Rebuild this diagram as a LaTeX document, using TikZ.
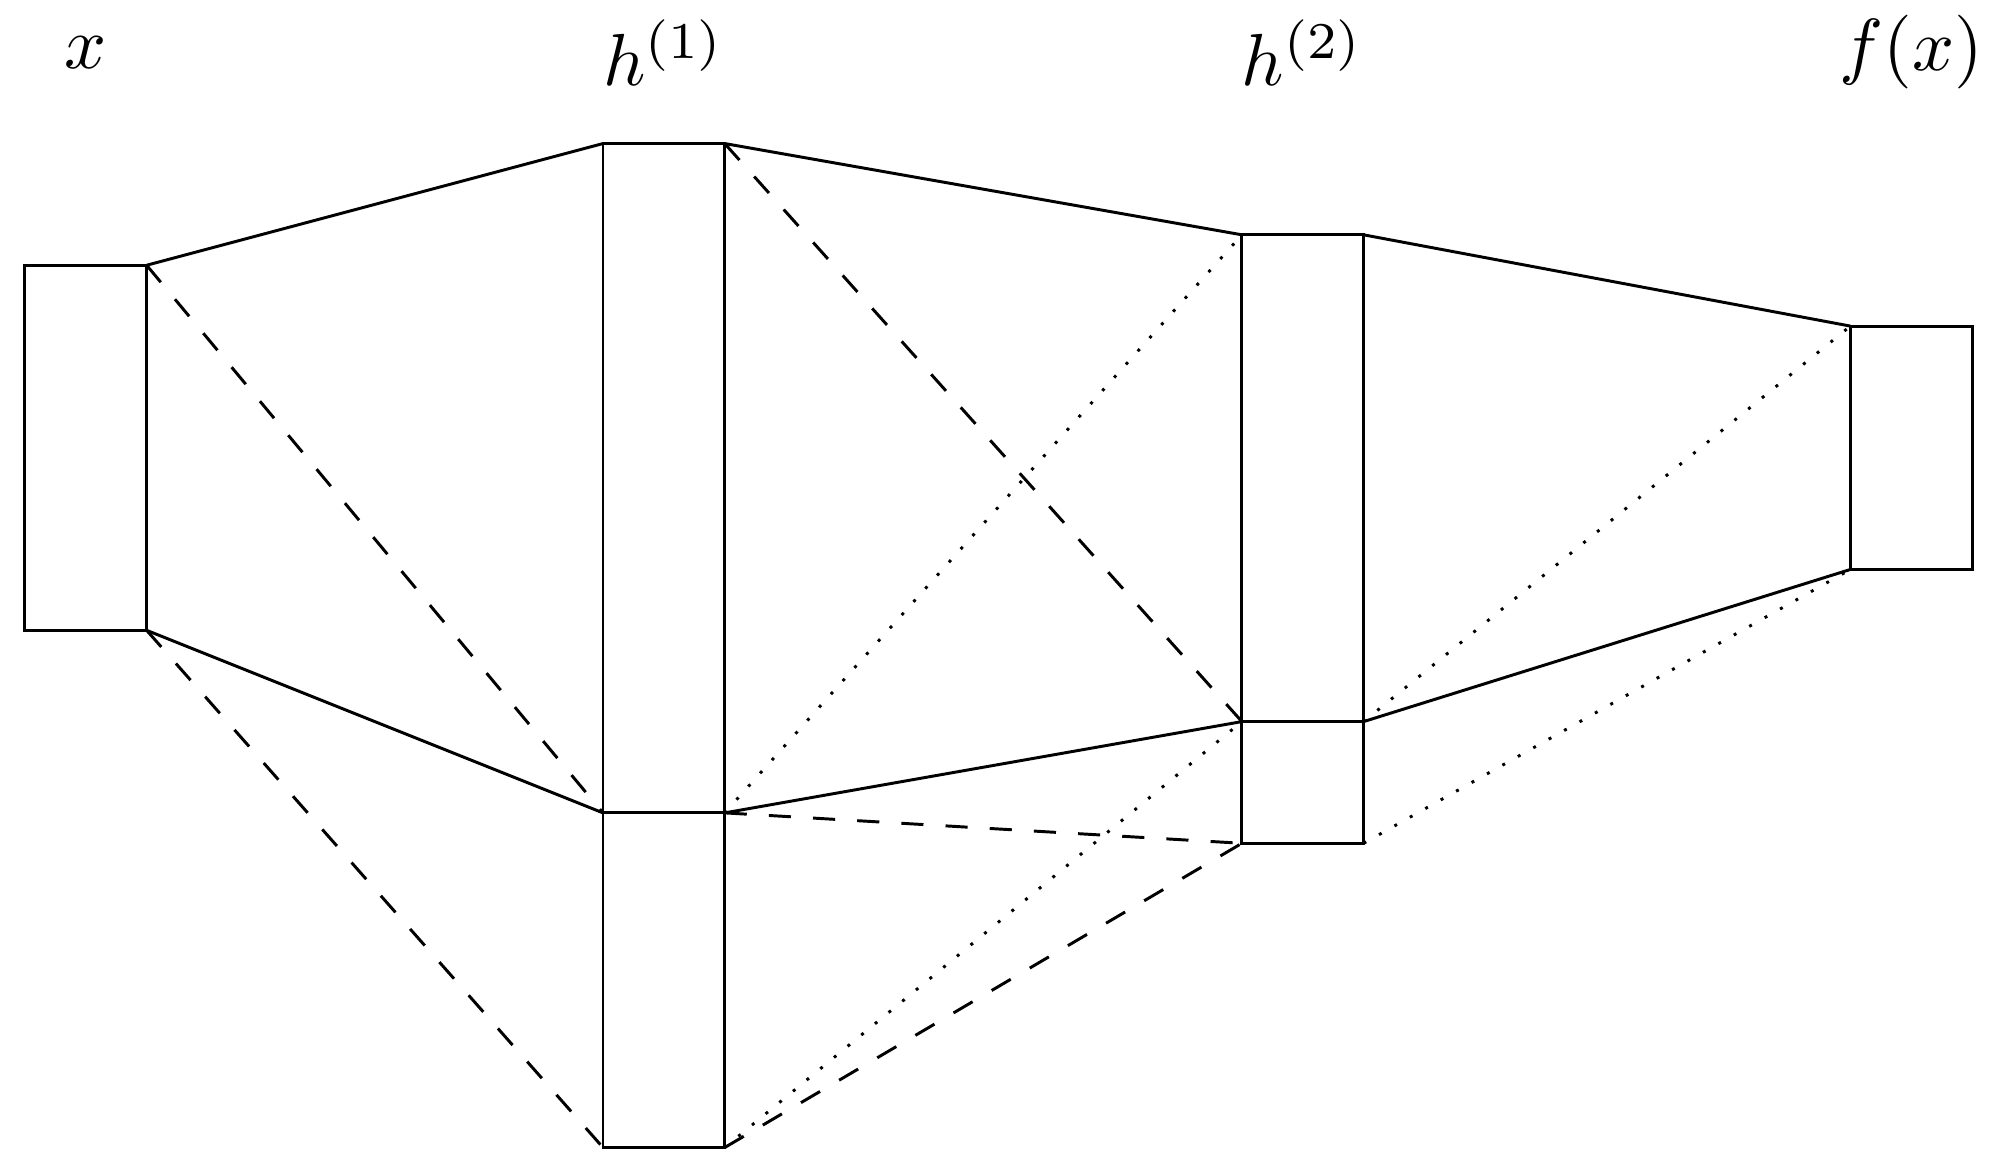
\documentclass[tikz,border=0pt]{standalone}
\usepackage{amsmath}
\usepackage{tikz}
\usetikzlibrary{positioning}

\newcommand{\bw}{0.58cm}

\begin{document}
\begin{tikzpicture}[x=\bw, y=\bw,
    layer/.style={draw, minimum width=\bw, inner sep=0pt, outer sep=0pt, anchor=south west}]

    \useasboundingbox (-0.205,-0.164) rectangle (16.18,9.43);

    % Capes
    \node[layer, minimum height=3*\bw] (x) at (0,4.25) {};
    \node[layer, minimum height=5.5*\bw] (h1a) at (4.75,2.75) {};
    \node[layer, minimum height=2.75*\bw, below=0pt of h1a] (h1b) {};
    \node[layer, minimum height=4*\bw] (h2a) at (10,3.5) {};
    \node[layer, minimum height=\bw, below=0pt of h2a] (h2b) {};
    \node[layer, minimum height=2*\bw] (f) at (15,4.75) {};

    % Etiquetes
    \coordinate (toprow) at (0,9);
    \node (lx) at (x |- toprow) {$x$};
    \node (lh1) at (h1a |- toprow) {$h^{(1)}$};
    \node (lh2) at (h2a |- toprow) {$h^{(2)}$};
    \node (lf) at (f |- toprow) {$f(x)$};

    % x -> h1
    \draw (x.north east) -- (h1a.north west);
    \draw (x.south east) -- (h1a.south west);
    \draw[dashed] (x.north east) -- (h1a.south west);
    \draw[dashed] (x.south east) -- (h1b.south west);

    % h1 -> h2
    \draw (h1a.north east) -- (h2a.north west);
    \draw (h1a.south east) -- (h2a.south west);
    \draw[dashed] (h1a.north east) -- (h2a.south west);
    \draw[dashed] (h1a.south east) -- (h2b.south west);
    \draw[dashed] (h1b.south east) -- (h2b.south west);
    \draw[dotted] (h1a.south east) -- (h2a.north west);
    \draw[dotted] (h1b.south east) -- (h2a.south west);

    % h2 -> f(x)
    \draw (h2a.north east) -- (f.north west);
    \draw (h2a.south east) -- (f.south west);
    \draw[dotted] (h2a.south east) -- (f.north west);
    \draw[dotted] (h2b.south east) -- (f.south west);

\end{tikzpicture}
\end{document}
